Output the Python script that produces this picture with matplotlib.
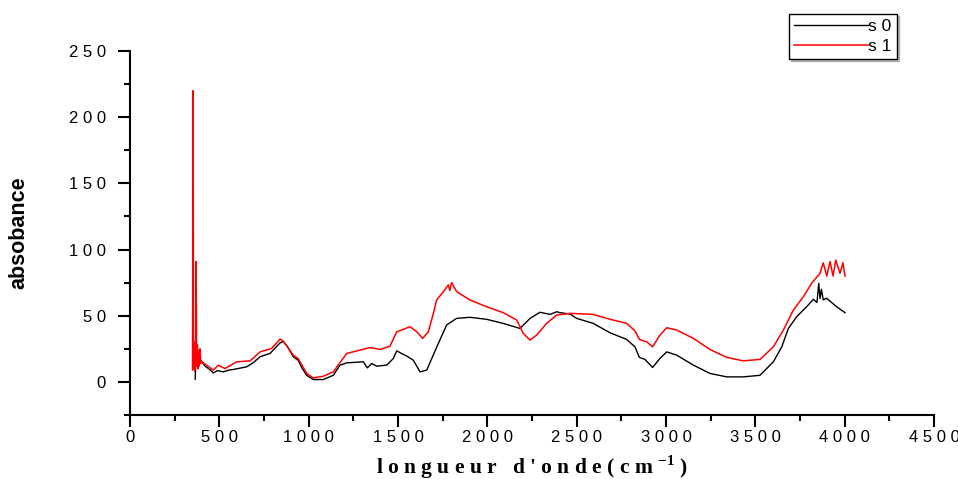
import matplotlib.pyplot as plt
from matplotlib.ticker import MultipleLocator, FuncFormatter

# values
wn_s0 = [365, 368, 372, 380, 396, 420, 445, 466, 490, 522, 550, 578, 620, 653, 690,
         728, 760, 784, 815, 840, 857, 880, 914, 941, 965, 989, 1026, 1082, 1138,
         1175, 1213, 1260, 1306, 1328, 1353, 1381, 1437, 1474, 1493, 1520, 1549,
         1586, 1623, 1661, 1689, 1726, 1772, 1828, 1903, 1996, 2089, 2183, 2239,
         2295, 2351, 2388, 2407, 2463, 2500, 2593, 2687, 2780, 2826, 2851, 2882,
         2925, 2966, 3004, 3060, 3153, 3246, 3340, 3433, 3526, 3601, 3648, 3685,
         3731, 3787, 3825, 3845, 3855, 3862, 3870, 3880, 3899, 3955, 4002]
ab_s0 = [2, 16, 12, 18, 16.4, 11.9, 9.5, 6.8, 8.5, 7.6, 8.8, 9.4, 10.5, 11.4, 14.5,
         19, 20.5, 21.5, 26, 29.5, 30.5, 27, 19, 16.4, 10, 5, 1.8, 1.8, 5,
         12.6, 14.4, 14.8, 15.2, 10.6, 13.9, 11.9, 12.7, 17.7, 23.5, 21.5, 19.5,
         16.4, 7.6, 8.9, 17.7, 29.1, 43, 48, 48.8, 47.3, 44.2, 40.4, 48,
         52.6, 51, 53, 52.3, 51.3, 48, 44.2, 37.1, 32.1, 26.5, 18.5, 17,
         10.9, 17.7, 22.7, 20.2, 12.7, 6.4, 3.8, 3.8, 5, 15.2, 26.5, 40.4,
         49.2, 56.8, 62.4, 60, 74.5, 63, 70, 62, 63.2, 56.8, 52.3]

wn_s1 = [350, 353, 356, 359, 362, 364, 367, 370, 373, 377, 380, 384, 388, 392, 396,
         401, 429, 466, 494, 532, 597, 672, 728, 793, 840, 857, 914, 941, 989,
         1026, 1082, 1138, 1185, 1213, 1287, 1343, 1399, 1455, 1493, 1530, 1567,
         1605, 1638, 1670, 1698, 1716, 1754, 1782, 1790, 1800, 1828, 1903, 1996,
         2089, 2164, 2201, 2239, 2276, 2332, 2388, 2463, 2593, 2687, 2780, 2826,
         2851, 2892, 2925, 2966, 3004, 3060, 3153, 3246, 3340, 3433, 3526, 3601,
         3657, 3713, 3769, 3815, 3862, 3880, 3900, 3918, 3935, 3950, 3974, 3990, 4002]
ab_s1 = [9, 220, 10, 30, 8, 25, 12, 91, 12, 28, 10, 24, 12, 25, 14,
         15.2, 12.6, 8.9, 12.6, 10.1, 15.2, 15.9, 22.7, 25.3, 32.3, 31, 20.2, 17.7, 6.4,
         3, 4.3, 7.6, 16.4, 21.5, 24, 26, 24.5, 27, 37.9, 39.7, 41.7,
         37.9, 32.9, 37.9, 51.8, 61.9, 68.2, 73.3, 69, 75, 68.2, 61.9, 56.8,
         52.3, 46.8, 36.7, 31.6, 35.4, 44.2, 50.5, 51.8, 51, 47.3, 44.2, 38.6,
         32.1, 30.3, 26.5, 35.4, 40.9, 39.2, 32.9, 24.5, 18.5, 15.9, 17, 26.5,
         39.2, 54.3, 64.4, 74.5, 82.1, 90, 80, 91, 80, 92, 82, 90, 80]

plt.rcParams['font.family'] = 'Liberation Sans'
plt.rcParams['mathtext.fontset'] = 'custom'
plt.rcParams['mathtext.rm'] = 'Liberation Serif:bold'
plt.rcParams['mathtext.bf'] = 'Liberation Serif:bold'

fig = plt.figure(figsize=(9.58, 4.79), dpi=100)
ax = fig.add_axes([130 / 958, 1 - 415 / 479, 804 / 958, 364 / 479])

ax.plot(wn_s0, ab_s0, color='black', lw=1, label='s 0')
ax.plot(wn_s1, ab_s1, color='red', lw=1.1, label='s 1')

ax.set_xlim(0, 4500)
ax.set_ylim(-25, 250)
for side in ('top', 'right'):
    ax.spines[side].set_visible(False)
for side in ('left', 'bottom'):
    ax.spines[side].set_linewidth(1.5)

ax.xaxis.set_major_locator(MultipleLocator(500))
ax.xaxis.set_minor_locator(MultipleLocator(250))
ax.yaxis.set_major_locator(MultipleLocator(50))
ax.yaxis.set_minor_locator(MultipleLocator(25))
spaced = FuncFormatter(lambda v, p: ' '.join(str(int(round(v)))))
ax.xaxis.set_major_formatter(spaced)
ax.yaxis.set_major_formatter(spaced)
ax.set_yticks([0, 50, 100, 150, 200, 250])
ax.tick_params(which='major', direction='out', length=8.5, width=1.5, labelsize=12)
ax.tick_params(which='minor', direction='out', length=4.5, width=1.5)
ax.tick_params(axis='x', which='major', pad=2)
ax.tick_params(axis='y', which='major', pad=9)

ax.set_xlabel("l o n g u e u r   d ' o n d e ( c m $^{-1}$ )",
              family='Liberation Serif', fontweight='bold', fontsize=15.5, labelpad=6)
ax.set_ylabel('absobance', fontweight='bold', fontsize=15.5, labelpad=28)

leg = fig.legend(loc='upper right', bbox_to_anchor=(897 / 958, 1 - 14 / 479),
                 fontsize=12.5, handlelength=4.3, handletextpad=0.0, borderpad=0.3,
                 labelspacing=0.25, borderaxespad=0, fancybox=False,
                 shadow={'color': 'gray', 'ox': 1.5, 'oy': -1.5})
leg.get_frame().set_edgecolor('black')
leg.get_frame().set_linewidth(1)

fig.savefig('out.png', dpi=100)
